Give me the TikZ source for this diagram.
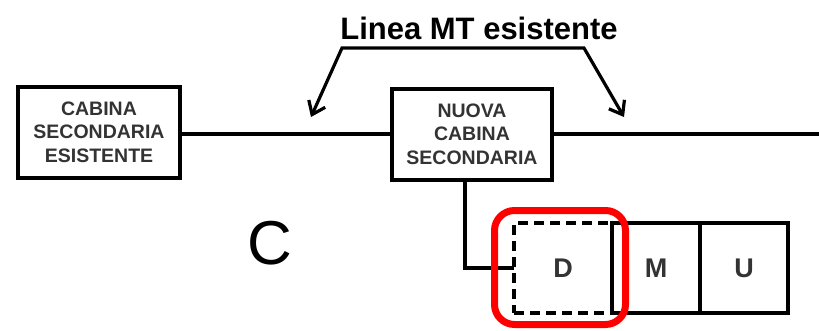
\documentclass[tikz,border=0pt]{standalone}
\usepackage{fontspec}
\setmainfont{Liberation Sans}
\usetikzlibrary{arrows.meta,positioning}
\definecolor{hlred}{HTML}{FF0000}
\definecolor{ink}{HTML}{333333}

\begin{document}
\begin{tikzpicture}[
  x=1pt, y=-1pt,
  node distance=0pt,
  cabin/.style={rectangle, draw, line width=4pt, minimum width=162pt, minimum height=91pt, inner sep=0pt, align=center, text=ink, font=\fontsize{19.5}{23.5}\selectfont\bfseries},
  cell/.style={rectangle, draw, line width=4pt, outer sep=0pt, minimum width=88pt, minimum height=90pt, inner sep=0pt, text=ink, font=\fontsize{27}{30}\selectfont\bfseries},
  newcell/.style={cell, dash pattern=on 10pt off 6pt, minimum width=98pt},
  wire/.style={line width=4pt},
  pointer/.style={line width=3.2pt, {Straight Barb[length=12pt,width=18pt]}-{Straight Barb[length=12pt,width=18pt]}}
]
\useasboundingbox (0,0) rectangle (819,330);

\node[font=\fontsize{31}{36}\selectfont\bfseries] (title) at (479,28) {Linea MT esistente};
\coordinate (brL) at (342,48);
\coordinate (brR) at (584,48);
\coordinate (tipL) at (311,117);
\coordinate (tipR) at (624,117);
\coordinate (lineEnd) at (819,134);

\node[cabin] (cse) at (99,132) {CABINA\\SECONDARIA\\ESISTENTE};
\node[cabin, minimum width=160pt] (ncs) at (472,134) {NUOVA\\CABINA\\SECONDARIA};

\node[font=\fontsize{62}{70}\selectfont] (lblC) at (270,243) {C};

\node[newcell] (dcell) at (563,268) {D};
\node[cell, right=of dcell] (mcell) {M};
\node[cell, right=of mcell] (ucell) {U};

% existing MT line
\draw[wire] (cse.east |- ncs.west) -- (ncs.west);
\draw[wire] (ncs.east) -- (lineEnd);
\draw[wire] ([xshift=-7pt]ncs.south) |- (dcell.west);

% label pointing to the line
\draw[pointer] (tipL) -- (brL) -- (brR) -- (tipR);

% highlight
\node[draw=hlred, line width=7pt, rounded corners=20pt, minimum width=131pt, minimum height=114pt] (hl) at (560,267.5) {};
\end{tikzpicture}
\end{document}
